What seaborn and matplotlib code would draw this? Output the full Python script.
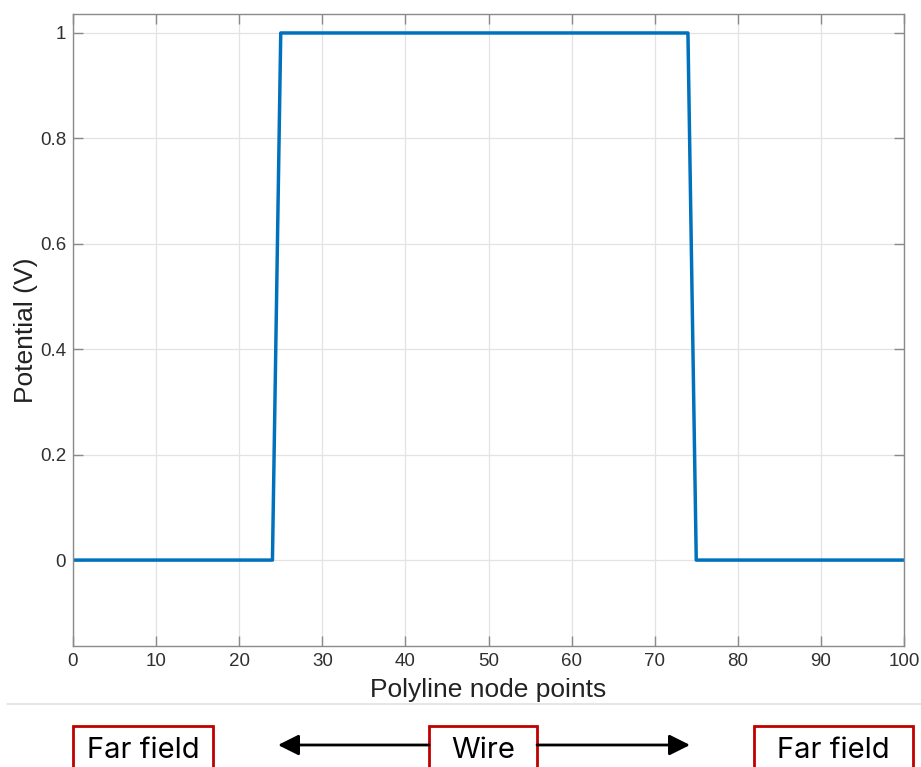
import matplotlib
matplotlib.use("Agg")
import matplotlib.pyplot as plt
import seaborn as sns
import pandas as pd
from matplotlib.patches import Rectangle, FancyArrowPatch
from matplotlib.lines import Line2D

# Corner points of the potential profile along the polyline
nodes = [0, 24, 25, 74, 75, 100]
potential = [0, 0, 1, 1, 0, 0]

x_ticks = [0, 10, 20, 30, 40, 50, 60, 70, 80, 90, 100]
y_ticks = [0, 0.2, 0.4, 0.6, 0.8, 1]
y_tick_labels = ["0", "0.2", "0.4", "0.6", "0.8", "1"]

region_labels = ["Far field", "Wire", "Far field"]

sns.set_theme(style="white")
plt.rcParams["font.family"] = ["Liberation Sans", "DejaVu Sans"]

W, H = 921, 767
fig = plt.figure(figsize=(W / 100, H / 100), dpi=100)
ax = fig.add_axes([73 / W, 1 - 646 / H, (904 - 73) / W, (646 - 14) / H])

df = pd.DataFrame({"node": nodes, "potential": potential})
sns.lineplot(data=df, x="node", y="potential", ax=ax, color="#0072BD",
             linewidth=2.5, estimator=None, sort=False)

ax.set_xlim(0, 100)
ax.set_ylim(-0.163, 1.036)
ax.set_xticks(x_ticks)
ax.set_xticklabels([str(t) for t in x_ticks])
ax.set_yticks(y_ticks)
ax.set_yticklabels(y_tick_labels)

ax.grid(True, color="#e3e3e3", linewidth=0.9)
ax.set_axisbelow(True)
for side in ["left", "right", "top", "bottom"]:
    ax.spines[side].set_visible(True)
    ax.spines[side].set_color("#8a8a8a")
    ax.spines[side].set_linewidth(1.0)

ax.tick_params(axis="both", which="both", direction="in", length=7,
               width=1.0, color="#8a8a8a", labelsize=13.5,
               labelcolor="#303030", top=True, right=True,
               bottom=True, left=True, pad=5)

ax.set_xlabel("Polyline node points", fontsize=19, color="#222222", labelpad=6)
ax.set_ylabel("Potential (V)", fontsize=19, color="#222222", labelpad=1)

# Separator under the plot
fig.add_artist(Line2D([7 / W, 1.0], [1 - 704 / H, 1 - 704 / H],
                      transform=fig.transFigure, color="#e2e2e2", linewidth=1.2))

# Region boxes below the axis
boxes = [(73, 213), (429, 537), (754, 913)]
box_top = 726
for (x0, x1), label in zip(boxes, region_labels):
    fig.add_artist(Rectangle((x0 / W, -0.05), (x1 - x0) / W,
                             1 - box_top / H + 0.05,
                             transform=fig.transFigure, fill=False,
                             edgecolor="#c00000", linewidth=2.0))
    fig.text((x0 + x1) / 2 / W, 1 - 751 / H, label, ha="center", va="center",
             fontsize=21, color="black", family=["Inter", "DejaVu Sans"])

arrow_y = 1 - 745 / H
for start, end in [(429, 278), (537, 690)]:
    fig.add_artist(FancyArrowPatch((start / W, arrow_y), (end / W, arrow_y),
                                   transform=fig.transFigure,
                                   arrowstyle="-|>,head_length=0.9,head_width=0.45",
                                   mutation_scale=14, color="black",
                                   linewidth=2.0, shrinkA=0, shrinkB=0))

fig.savefig("out.png", dpi=100, facecolor="white")
